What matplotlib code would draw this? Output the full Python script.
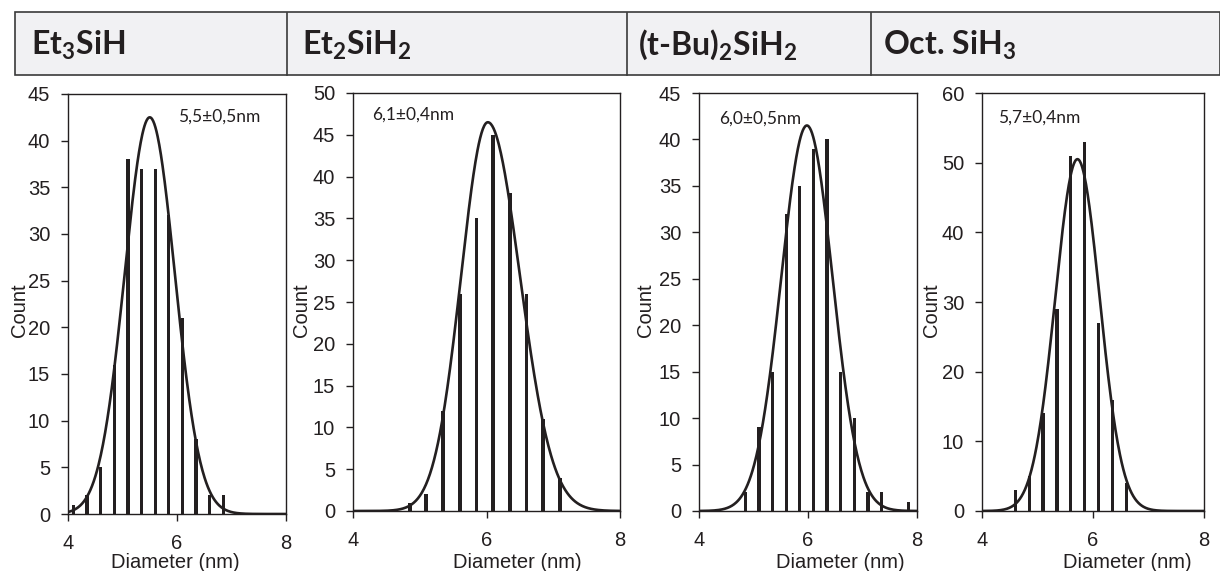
'''
Size histograms of silicon nanocrystals for four silane precursors,
each with its Gaussian fit.
'''

import numpy as np
import matplotlib.pyplot as plt
from matplotlib.patches import Rectangle
from matplotlib.lines import Line2D

plt.rcParams['mathtext.fontset'] = 'custom'
plt.rcParams['mathtext.rm'] = 'Lato'
plt.rcParams['mathtext.bf'] = 'Lato:bold'

INK = '#231f20'

TITLES = [r'Et$_\mathbf{3}$SiH', r'Et$_\mathbf{2}$SiH$_\mathbf{2}$',
          r'(t-Bu)$_\mathbf{2}$SiH$_\mathbf{2}$', r'Oct. SiH$_\mathbf{3}$']
NOTES = ['5,5±0,5nm', '6,1±0,4nm', '6,0±0,5nm', '5,7±0,4nm']

# histogram bins (nm) and counts
d1 = [4.10, 4.35, 4.60, 4.85, 5.10, 5.35, 5.60, 5.85, 6.10, 6.35, 6.60, 6.85]
n1 = [1, 2, 5, 16, 38, 37, 37, 32, 21, 8, 2, 2]
d2 = [4.85, 5.10, 5.35, 5.60, 5.85, 6.10, 6.35, 6.60, 6.85, 7.10]
n2 = [1, 2, 12, 26, 35, 45, 38, 26, 11, 4]
d3 = [4.85, 5.10, 5.35, 5.60, 5.85, 6.10, 6.35, 6.60, 6.85, 7.10, 7.35, 7.85]
n3 = [2, 9, 15, 32, 35, 39, 40, 15, 10, 2, 2, 1]
d4 = [4.60, 4.85, 5.10, 5.35, 5.60, 5.85, 6.10, 6.35, 6.60]
n4 = [3, 5, 14, 29, 51, 53, 27, 16, 4]

# fit parameters: centre, peak, sigma left, sigma right
fit_centre = [5.50, 6.02, 5.98, 5.72]
fit_peak = [42.5, 46.5, 41.5, 50.5]
fit_sig_lo = [0.46, 0.40, 0.47, 0.40]
fit_sig_hi = [0.46, 0.48, 0.47, 0.40]

y_max = [45, 50, 45, 60]
y_step = [5, 5, 5, 10]

W, H = 1220, 571
# axes boxes in pixels: left, right, top, bottom
boxes = [(68, 286, 94, 514), (353, 620, 93, 511),
         (699, 917, 93, 511), (982, 1204, 93, 511)]
title_x = [31, 302, 638, 883]
note_xy = [(178, 117), (372, 115), (719, 119), (998, 118)]
count_x = [19, 302, 646, 931.5]
diam_x = [175, 517, 840, 1127]

fig = plt.figure(figsize=(W / 100, H / 100), dpi=100)

# header band
fig.patches.append(Rectangle((15 / W, 1 - 74.7 / H), (W - 15) / W, 62.2 / H,
                             transform=fig.transFigure, fc='#f1f1f3',
                             ec='#3a3a3a', lw=1.2, zorder=0))
for sx in [287, 627, 871]:
    fig.add_artist(Line2D([sx / W, sx / W], [1 - 74.7 / H, 1 - 12.5 / H],
                          color='#3a3a3a', lw=1.2))

data = [(d1, n1), (d2, n2), (d3, n3), (d4, n4)]
xs = np.linspace(4, 8, 400)

for i, (d, n) in enumerate(data):
    l, r, t, b = boxes[i]
    ax = fig.add_axes([l / W, 1 - b / H, (r - l) / W, (b - t) / H])
    ax.bar(d, n, width=0.058, color=INK, zorder=2)

    c = fit_centre[i]
    sig = np.where(xs < c, fit_sig_lo[i], fit_sig_hi[i])
    ax.plot(xs, fit_peak[i] * np.exp(-(xs - c) ** 2 / (2 * sig ** 2)),
            color=INK, lw=1.9, zorder=3)

    ax.set_xlim(4, 8)
    ax.set_ylim(0, y_max[i])
    ax.set_xticks([4, 6, 8])
    ax.set_yticks(np.arange(0, y_max[i] + 1, y_step[i]))
    ax.tick_params(direction='out', length=4.8, width=1.0, colors=INK,
                   labelsize=14.5, pad=8)
    ax.tick_params(axis='x', pad=9.5)
    for lab in ax.get_xticklabels() + ax.get_yticklabels():
        lab.set_family('Liberation Sans')
    for sp in ax.spines.values():
        sp.set_color(INK)
        sp.set_linewidth(1.0)

    fig.text(title_x[i] / W, 1 - 55 / H, TITLES[i], ha='left', va='baseline',
             fontsize=23, fontweight='bold', family='Lato', color=INK)
    nx, ny = note_xy[i]
    fig.text(nx / W, 1 - ny / H, NOTES[i], ha='left', va='center',
             fontsize=12.5, family='Lato', color=INK)
    fig.text(count_x[i] / W, 1 - 310 / H, 'Count', rotation=90, ha='center',
             va='center', fontsize=14.5, family='Liberation Sans', color=INK)
    fig.text(diam_x[i] / W, 1 - 553.5 / H, 'Diameter (nm)', ha='center',
             va='top', fontsize=14.5, family='Liberation Sans', color=INK)

fig.savefig('out.png', dpi=100)
